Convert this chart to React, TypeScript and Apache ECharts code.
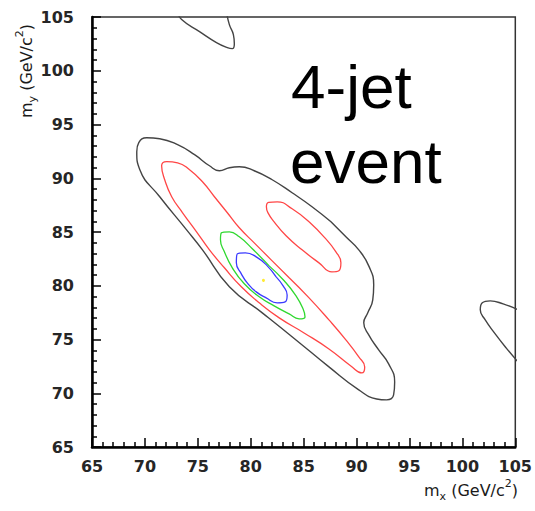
import React, { useEffect, useRef } from 'react';
import * as echarts from 'echarts';

type Pt = [number, number];

// Axis range
const axisMin = 65;
const axisMax = 105;
const axisStep = 5;

// Contours (data units: m_x, m_y in GeV/c^2)
const outerContour: Pt[] = [
  [69.23, 92.47], [69.42, 93.31], [70.17, 93.77], [71.4, 93.68], [73.09, 93.12],
  [74.69, 92.19], [76.1, 91.16], [77.04, 90.7], [77.98, 90.98], [78.92, 91.07],
  [80.33, 90.7], [82.03, 89.86], [83.91, 88.65], [85.79, 87.35], [87.58, 85.95],
  [88.99, 84.55], [90.21, 83.34], [91.15, 81.85], [91.62, 80.08], [91.53, 78.69],
  [91.06, 77.48], [90.68, 76.55], [91.15, 75.43], [92.09, 74.03], [93.03, 72.73],
  [93.6, 71.05], [93.5, 69.84], [92.84, 69.38], [91.9, 69.47], [90.21, 70.31],
  [87.39, 72.45], [84.28, 74.96], [81.09, 77.48], [77.98, 79.9], [75.44, 83.34],
  [73.94, 85.2], [71.4, 88.28], [69.52, 90.79],
];
const redMainContour: Pt[] = [
  [71.58, 91.16], [72.06, 91.54], [73.09, 91.44], [74.22, 90.79], [75.44, 89.67],
  [76.57, 88.28], [77.79, 86.79], [78.92, 85.39], [80.33, 83.99], [81.93, 82.41],
  [83.63, 80.74], [85.51, 78.87], [87.39, 76.82], [88.99, 74.96], [90.21, 73.38],
  [90.77, 72.45], [90.49, 71.89], [89.46, 72.54], [87.39, 74.12], [85.04, 75.61],
  [82.69, 77.01], [80.8, 78.41], [79.11, 79.9], [77.51, 81.67], [76.1, 83.34],
  [74.88, 85.02], [73.56, 86.79], [72.53, 88.28], [71.87, 89.86],
];
const redSideContour: Pt[] = [
  [81.7, 87.75], [82.5, 87.81], [83.91, 87.16], [85.51, 85.95], [86.92, 84.55],
  [88.05, 83.16], [88.52, 82.13], [88.33, 81.39], [87.67, 81.29], [86.45, 82.13],
  [84.85, 83.34], [83.34, 84.65], [82.21, 85.95], [81.62, 86.8], [81.48, 87.35],
];
const greenContour: Pt[] = [
  [77.23, 84.93], [77.98, 85.02], [78.92, 84.55], [80.15, 83.44], [81.74, 81.85],
  [83.16, 80.46], [84.28, 79.06], [84.94, 77.85], [85.13, 77.1], [84.57, 76.92],
  [83.63, 77.38], [82.21, 78.13], [80.8, 78.97], [79.39, 80.18], [78.26, 81.67],
  [77.51, 83.16], [77.14, 84.27],
];
const blueContour: Pt[] = [
  [78.73, 82.97], [79.49, 83.06], [80.52, 82.69], [81.56, 81.85], [82.4, 80.83],
  [83.06, 79.99], [83.44, 79.15], [83.25, 78.5], [82.5, 78.41], [81.46, 78.87],
  [80.52, 79.43], [79.67, 80.27], [79.11, 81.11], [78.64, 82.13],
];
const topEdgeContour: Pt[] = [
  [73.09, 105.5], [73.47, 104.76], [75.16, 103.64], [76.76, 102.62], [77.79, 102.15],
  [78.26, 102.06], [78.45, 102.52], [78.36, 103.36], [77.98, 104.29], [77.7, 105.5],
];
const rightEdgeContour: Pt[] = [
  [105.26, 77.76], [103.85, 78.31], [102.63, 78.59], [101.88, 78.41], [101.69, 77.76],
  [102.16, 76.82], [103.1, 75.52], [104.13, 74.22], [105.26, 72.91],
];
const peakPoint: Pt[] = [[81.2, 80.5]];

// close a loop, starting on a straight stretch so the seam of the smoothing is invisible
const closeLoop = (pts: Pt[], start: number): Pt[] => {
  const r = [...pts.slice(start), ...pts.slice(0, start)];
  return [...r, r[0]];
};

const lineSeries = (data: Pt[], color: string, width: number) => ({
  type: 'line',
  data,
  smooth: 0.5,
  showSymbol: false,
  symbol: 'none',
  clip: true,
  lineStyle: { color, width },
  silent: true,
});

const tickStyle = { color: '#000', width: 1.5 };

const labelStyle = (margin: number) => ({
  fontSize: 16, fontFamily: 'DejaVu Sans', fontWeight: 'bold', color: '#262626', margin,
});

const valueAxis = (extra: any) => ({
  type: 'value',
  min: axisMin,
  max: axisMax,
  interval: axisStep,
  axisLine: { show: true, onZero: false, lineStyle: { color: '#000', width: 2.5 } },
  axisTick: { show: true, inside: true, length: 9, lineStyle: tickStyle },
  minorTick: { show: true, splitNumber: 5, length: 5, lineStyle: tickStyle },
  splitLine: { show: false },
  minorSplitLine: { show: false },
  ...extra,
});

const titleRich = {
  m: { fontSize: 16, fontFamily: 'DejaVu Sans', fill: '#1a1a1a', lineHeight: 24, verticalAlign: 'middle' },
  s: { fontSize: 11, fontFamily: 'DejaVu Sans', fill: '#1a1a1a', lineHeight: 13, verticalAlign: 'bottom' },
  p: { fontSize: 11, fontFamily: 'DejaVu Sans', fill: '#1a1a1a', lineHeight: 14, verticalAlign: 'top' },
};

export default function App() {
  const ref = useRef<HTMLDivElement>(null);
  useEffect(() => {
    const chart = echarts.init(ref.current!, null, { renderer: 'svg' });
    chart.setOption({
      animation: false,
      backgroundColor: '#fff',
      grid: {
        left: 92, right: 18, top: 17, bottom: 64,
        show: true, borderColor: '#333', borderWidth: 1.5,
      },
      xAxis: valueAxis({ position: 'bottom', axisLabel: labelStyle(11) }),
      yAxis: valueAxis({ position: 'left', axisLabel: labelStyle(18) }),
      series: [
        lineSeries(closeLoop(outerContour, 14), '#444', 1.4),
        lineSeries(topEdgeContour, '#444', 1.4),
        lineSeries(rightEdgeContour, '#444', 1.4),
        lineSeries(closeLoop(redMainContour, 10), '#ff4646', 1.3),
        lineSeries(closeLoop(redSideContour, 3), '#ff4646', 1.3),
        lineSeries(closeLoop(greenContour, 4), '#2fd82f', 1.3),
        lineSeries(closeLoop(blueContour, 4), '#3b3bff', 1.3),
        {
          type: 'scatter',
          data: peakPoint,
          symbolSize: 3,
          itemStyle: { color: '#ffe600' },
          silent: true,
        },
      ],
      graphic: [
        {
          type: 'text', x: 291, y: 86,
          style: { text: '4-jet', fontSize: 62, fontFamily: 'Liberation Sans', fill: '#000', align: 'left', verticalAlign: 'middle' },
        },
        {
          type: 'text', x: 290, y: 161,
          style: { text: 'event', fontSize: 62, fontFamily: 'Liberation Sans', fill: '#000', align: 'left', verticalAlign: 'middle' },
        },
        {
          type: 'text', x: 518, y: 490,
          style: {
            text: '{m|m}{s|x}{m| (GeV/c}{p|2}{m|)}',
            rich: titleRich, align: 'right', verticalAlign: 'middle',
          },
        },
        {
          type: 'text', x: 26, y: 71, rotation: Math.PI / 2,
          style: {
            text: '{m|m}{s|y}{m| (GeV/c}{p|2}{m|)}',
            rich: titleRich, align: 'center', verticalAlign: 'middle',
          },
        },
      ],
    });
    return () => chart.dispose();
  }, []);
  return <div ref={ref} style={{ position: 'absolute', left: 0, top: 0, width: 535, height: 511 }} />;
}
